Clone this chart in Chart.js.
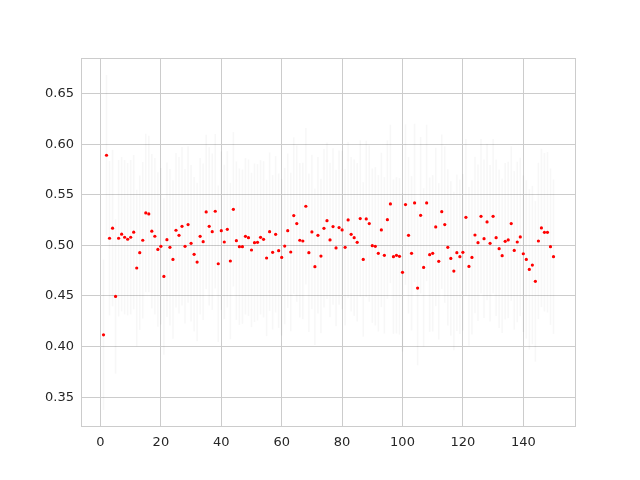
<!DOCTYPE html>
<html>
<head>
<meta charset="utf-8">
<script src="https://cdn.jsdelivr.net/npm/chart.js@4"></script>
<style>
html,body{margin:0;padding:0;background:#ffffff;}
canvas{display:block;}
</style>
</head>
<body>
<canvas id="c" width="640" height="480"></canvas>
<script>
// x positions 1..150
const xValues = Array.from({length:150},(_,k)=>k+1);

const yValues = [
0.4116,0.589,0.507,0.517,0.4495,0.507,0.511,0.508,0.506,0.508,
0.513,0.4776,0.4927,0.505,0.532,0.531,0.514,0.509,0.496,0.499,
0.4693,0.5056,0.498,0.4861,0.5149,0.5099,0.5188,0.499,0.5205,0.502,
0.4911,0.4835,0.5089,0.5036,0.533,0.5188,0.5135,0.5337,0.4818,0.5145,
0.5033,0.5158,0.4845,0.5356,0.5046,0.4987,0.4987,0.5089,0.5076,0.4954,
0.5026,0.503,0.5079,0.5059,0.4875,0.5135,0.4931,0.5109,0.4947,0.4881,
0.4993,0.5145,0.4934,0.5294,0.5215,0.505,0.5043,0.5386,0.4927,0.5132,
0.4789,0.5099,0.4894,0.5168,0.5244,0.5053,0.5185,0.4974,0.5175,0.5152,
0.498,0.5251,0.5109,0.5076,0.503,0.5264,0.4861,0.5261,0.5215,0.4997,
0.499,0.4921,0.5152,0.4901,0.5254,0.5409,0.4888,0.4901,0.4891,0.4733,
0.5403,0.5099,0.4921,0.5419,0.4578,0.5297,0.4782,0.5419,0.4908,0.4921,
0.5182,0.4842,0.5333,0.5205,0.498,0.4871,0.4746,0.4927,0.4888,0.4931,
0.5277,0.4792,0.4881,0.5102,0.5026,0.5287,0.5066,0.5231,0.502,0.5287,
0.5076,0.4967,0.4898,0.504,0.5053,0.5215,0.495,0.5033,0.5083,0.4917,
0.4861,0.4762,0.4805,0.4644,0.5043,0.5172,0.5129,0.5129,0.4987,0.4888
];

// half-widths of the faint error bars
const yErrors = [
0.074,0.079,0.076,0.077,0.076,0.077,0.076,0.076,0.075,0.076,
0.076,0.077,0.076,0.077,0.078,0.077,0.076,0.077,0.076,0.077,
0.077,0.076,0.077,0.078,0.076,0.077,0.078,0.076,0.077,0.077,
0.076,0.078,0.077,0.077,0.076,0.078,0.077,0.076,0.077,0.078,
0.076,0.077,0.077,0.076,0.078,0.077,0.076,0.077,0.077,0.076,
0.078,0.077,0.076,0.077,0.077,0.078,0.076,0.077,0.076,0.077,
0.077,0.076,0.078,0.077,0.077,0.076,0.077,0.077,0.078,0.076,
0.077,0.077,0.076,0.078,0.077,0.076,0.077,0.077,0.076,0.078,
0.077,0.077,0.076,0.077,0.078,0.077,0.076,0.077,0.077,0.076,
0.078,0.077,0.076,0.077,0.078,0.078,0.076,0.077,0.077,0.078,
0.079,0.077,0.076,0.078,0.076,0.077,0.078,0.077,0.076,0.077,
0.078,0.077,0.076,0.077,0.077,0.076,0.078,0.077,0.076,0.077,
0.077,0.078,0.076,0.077,0.077,0.076,0.078,0.077,0.077,0.076,
0.077,0.078,0.076,0.077,0.077,0.076,0.078,0.079,0.078,0.077,
0.078,0.079,0.078,0.079,0.077,0.078,0.078,0.079,0.077,0.076
];

const xTicks = [0,20,40,60,80,100,120,140];
const yTicks = [0.35,0.40,0.45,0.50,0.55,0.60,0.65];

const points = xValues.map((x,k)=>({x:x, y:yValues[k]}));
const errBars = xValues.map((x,k)=>({x:x, y:[yValues[k]-yErrors[k], yValues[k]+yErrors[k]]}));

const frame = {
  id:'frame',
  beforeDatasetsDraw(chart){
    const a = chart.chartArea, ctx = chart.ctx;
    ctx.save();
    ctx.strokeStyle = '#cccccc';
    ctx.lineWidth = 1;
    ctx.strokeRect(Math.round(a.left)+0.5, Math.round(a.top)+0.5,
                   Math.round(a.right-a.left)-1, Math.round(a.bottom-a.top)-1);
    ctx.restore();
  }
};

new Chart(document.getElementById('c'), {
  type:'scatter',
  data:{
    datasets:[
      {
        type:'scatter',
        data:points,
        order:0,
        pointRadius:1.6,
        pointBorderWidth:0,
        pointBackgroundColor:'#ff0000',
        pointBorderColor:'#ff0000'
      },
      {
        type:'bar',
        data:errBars,
        order:1,
        barThickness:1,
        backgroundColor:'rgba(0,0,0,0.03)',
        borderWidth:0
      }
    ]
  },
  plugins:[frame],
  options:{
    responsive:false,
    animation:false,
    devicePixelRatio:1,
    layout:{padding:{left:0,top:58,right:64,bottom:0}},
    plugins:{legend:{display:false},tooltip:{enabled:false}},
    scales:{
      x:{
        type:'linear',
        min:-6.45, max:157.45,
        offset:false,
        afterBuildTicks(s){ s.ticks = xTicks.map(v=>({value:v})); },
        afterFit(s){ s.height = 53; },
        grid:{color:'#cccccc', lineWidth:1, drawTicks:false, offset:false},
        border:{display:false},
        ticks:{
          padding:8,
          color:'#262626',
          font:{family:'DejaVu Sans', size:13},
          maxRotation:0,
          callback:(v)=>String(v)
        }
      },
      y:{
        type:'linear',
        min:0.3205, max:0.6851,
        afterBuildTicks(s){ s.ticks = yTicks.map(v=>({value:v})); },
        afterFit(s){ s.width = 81; },
        grid:{color:'#cccccc', lineWidth:1, drawTicks:false},
        border:{display:false},
        ticks:{
          padding:7,
          color:'#262626',
          font:{family:'DejaVu Sans', size:13},
          callback:(v)=>Number(v).toFixed(2)
        }
      }
    }
  }
});
</script>
</body>
</html>
